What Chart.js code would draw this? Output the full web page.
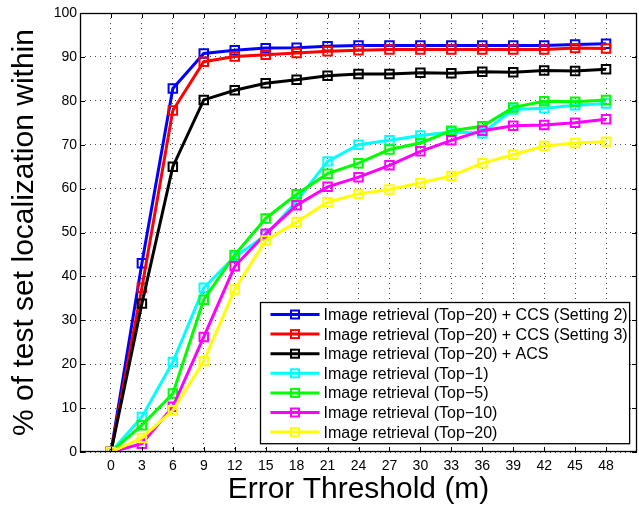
<!DOCTYPE html>
<html lang="en">
<head>
    <meta charset="UTF-8">
    <title>Error Threshold</title>
    <script src="https://cdn.jsdelivr.net/npm/chart.js"></script>
    <style>
        body { margin: 0; background: #fff; }
        #chart { display: block; }
    </style>
</head>
<body>
    <canvas id="chart" width="639" height="505"></canvas>

    <script>
        // error thresholds (m) on the x axis
        var thresholds = [0, 3, 6, 9, 12, 15, 18, 21, 24, 27, 30, 33, 36, 39, 42, 45, 48];
        var yTicks = [0, 10, 20, 30, 40, 50, 60, 70, 80, 90, 100];

        // % of test set localized within threshold
        var ccsSetting2 = [0, 43.0, 82.8, 90.8, 91.5, 92.0, 92.1, 92.4, 92.6, 92.6, 92.6, 92.6, 92.6, 92.6, 92.6, 92.8, 93.0];
        var ccsSetting3 = [0, 37.4, 77.8, 88.9, 90.1, 90.5, 90.9, 91.3, 91.5, 91.7, 91.7, 91.7, 91.7, 91.7, 91.7, 92.0, 91.9];
        var acs = [0, 33.8, 65.0, 80.2, 82.4, 84.0, 84.8, 85.7, 86.1, 86.1, 86.4, 86.3, 86.6, 86.5, 86.9, 86.8, 87.2];
        var top1 = [0, 8.0, 20.5, 37.4, 44.5, 49.3, 57.2, 66.2, 70.0, 71.0, 72.1, 72.9, 72.6, 78.0, 78.3, 79.0, 79.4];
        var top5 = [0, 6.1, 13.3, 34.7, 44.9, 53.2, 58.7, 63.4, 65.8, 68.9, 70.4, 73.2, 74.2, 78.5, 79.9, 79.8, 80.2];
        var top10 = [0, 1.9, 10.3, 26.2, 42.3, 49.7, 56.2, 60.4, 62.6, 65.3, 68.5, 71.0, 73.2, 74.3, 74.5, 75.0, 75.8];
        var top20 = [0, 3.2, 9.5, 20.7, 37.0, 48.2, 52.4, 56.9, 58.8, 59.8, 61.3, 62.9, 65.8, 67.7, 69.7, 70.4, 70.7];

        var seriesNames = [
            'Image retrieval (Top\u221220) + CCS (Setting 2)',
            'Image retrieval (Top\u221220) + CCS (Setting 3)',
            'Image retrieval (Top\u221220) + ACS',
            'Image retrieval (Top\u22121)',
            'Image retrieval (Top\u22125)',
            'Image retrieval (Top\u221210)',
            'Image retrieval (Top\u221220)'
        ];
        var seriesValues = [ccsSetting2, ccsSetting3, acs, top1, top5, top10, top20];
        var seriesColors = ['#0000ff', '#ff0000', '#000000', '#00ffff', '#00ff00', '#ff00ff', '#ffff00'];

        var FONT = '"Liberation Sans", Arial, Helvetica, sans-serif';

        var datasets = seriesValues.map(function(values, i) {
            return {
                label: seriesNames[i],
                data: values.map(function(v, j) { return { x: thresholds[j], y: v }; }),
                borderColor: seriesColors[i],
                backgroundColor: seriesColors[i],
                borderWidth: 3,
                pointStyle: 'rect',
                pointRadius: 6,
                pointBorderWidth: 2,
                pointBackgroundColor: 'rgba(0,0,0,0)',
                pointBorderColor: seriesColors[i],
                tension: 0,
                order: seriesValues.length - i   // later series drawn on top, like matlab
            };
        });

        // box around the axes, inward tick marks and the legend inside the plot
        var boxPlugin = {
            id: 'boxPlugin',
            afterDraw: function(chart) {
                var ctx = chart.ctx;
                var a = chart.chartArea;
                var xs = chart.scales.x, ys = chart.scales.y;
                ctx.save();
                ctx.strokeStyle = '#000';
                ctx.lineWidth = 1;
                ctx.beginPath();
                thresholds.forEach(function(v) {
                    var px = Math.round(xs.getPixelForValue(v)) + 0.5;
                    ctx.moveTo(px, a.bottom); ctx.lineTo(px, a.bottom - 5);
                    ctx.moveTo(px, a.top); ctx.lineTo(px, a.top + 5);
                });
                yTicks.forEach(function(v) {
                    var py = Math.round(ys.getPixelForValue(v)) + 0.5;
                    ctx.moveTo(a.left, py); ctx.lineTo(a.left + 5, py);
                    ctx.moveTo(a.right, py); ctx.lineTo(a.right - 5, py);
                });
                ctx.stroke();
                ctx.lineWidth = 1.3;
                ctx.strokeRect(Math.round(a.left) + 0.5, Math.round(a.top) + 0.5,
                    Math.round(a.right - a.left) - 1, Math.round(a.bottom - a.top) - 1);

                // legend
                ctx.font = '16px ' + FONT;
                var textW = 0;
                chart.data.datasets.forEach(function(ds) {
                    textW = Math.max(textW, ctx.measureText(ds.label).width);
                });
                var rowH = 19.6;
                var n = chart.data.datasets.length;
                var boxW = 64 + textW + 1;
                var boxH = n * rowH + 4;
                var bx = Math.round(a.right - 8 - boxW) + 0.5;
                var by = Math.round(a.bottom - 9 - boxH) + 0.5;
                ctx.fillStyle = '#fff';
                ctx.fillRect(bx, by, boxW, boxH);
                ctx.lineWidth = 1.3;
                ctx.strokeStyle = '#000';
                ctx.strokeRect(bx, by, boxW, boxH);
                chart.data.datasets.forEach(function(ds, i) {
                    var cy = by + 12 + i * rowH;
                    ctx.strokeStyle = ds.borderColor;
                    ctx.lineWidth = 3;
                    ctx.beginPath();
                    ctx.moveTo(bx + 10, cy); ctx.lineTo(bx + 59, cy);
                    ctx.stroke();
                    ctx.lineWidth = 2;
                    ctx.strokeRect(bx + 30.5, cy - 4, 8, 8);
                    ctx.fillStyle = '#000';
                    ctx.textBaseline = 'middle';
                    ctx.textAlign = 'left';
                    ctx.fillText(ds.label, bx + 63, cy + 1);
                });
                ctx.restore();
            }
        };

        var ctx = document.getElementById('chart').getContext('2d');
        var chart = new Chart(ctx, {
            type: 'line',
            data: { datasets: datasets },
            plugins: [boxPlugin],
            options: {
                responsive: false,
                animation: false,
                layout: { autoPadding: false, padding: { top: 13, right: 2, left: 0, bottom: 0 } },
                plugins: {
                    legend: { display: false },
                    tooltip: { enabled: false }
                },
                scales: {
                    x: {
                        type: 'linear',
                        min: -3,
                        max: 51,
                        afterBuildTicks: function(scale) {
                            scale.ticks = thresholds.map(function(v) { return { value: v }; });
                        },
                        afterFit: function(scale) { scale.height = 53; },
                        ticks: {
                            color: '#000',
                            font: { family: FONT, size: 14 },
                            padding: 6,
                            maxRotation: 0,
                            autoSkip: false
                        },
                        grid: { color: 'rgba(0,0,0,0.7)', lineWidth: 1, drawTicks: false },
                        border: { display: false, dash: [1, 4] },
                        title: {
                            display: true,
                            text: 'Error Threshold (m)',
                            color: '#000',
                            font: { family: FONT, size: 30, lineHeight: 1 },
                            padding: { top: 0, bottom: 0 }
                        }
                    },
                    y: {
                        min: 0,
                        max: 100,
                        afterBuildTicks: function(scale) {
                            scale.ticks = yTicks.map(function(v) { return { value: v }; });
                        },
                        afterFit: function(scale) { scale.width = 80; },
                        ticks: {
                            color: '#000',
                            font: { family: FONT, size: 14 },
                            padding: 3
                        },
                        grid: { color: 'rgba(0,0,0,0.7)', lineWidth: 1, drawTicks: false },
                        border: { display: false, dash: [1, 4] },
                        title: {
                            display: true,
                            text: '% of test set localization within',
                            color: '#000',
                            font: { family: FONT, size: 30, lineHeight: 1 },
                            padding: { top: 10, bottom: 0 }
                        }
                    }
                }
            }
        });
    </script>
</body>
</html>
